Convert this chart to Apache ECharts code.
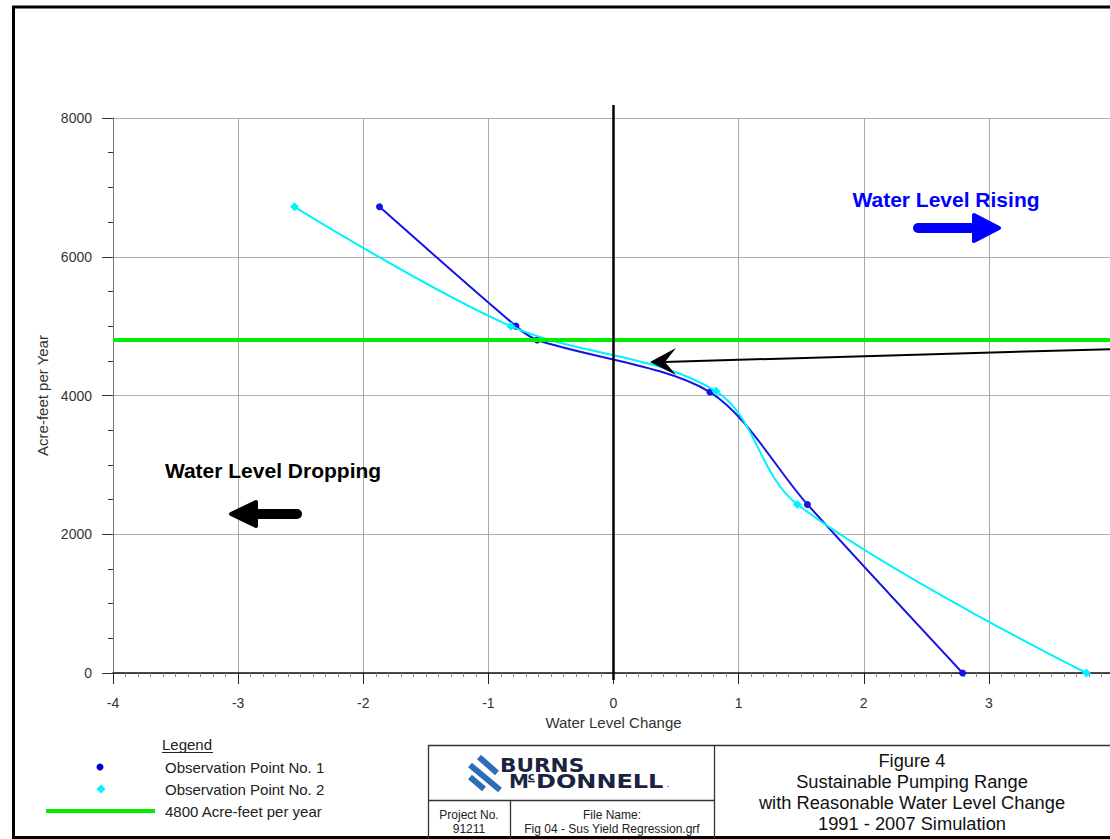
<!DOCTYPE html>
<html>
<head>
<meta charset="utf-8">
<script src="https://cdn.jsdelivr.net/npm/echarts@6/dist/echarts.min.js"></script>
<style>
html,body{margin:0;padding:0;background:#fff;}
#c{width:1110px;height:839px;}
</style>
</head>
<body>
<div id="c"></div>
<script>
// ---------- data ----------
const xMin = -4, xMax = 4, xStep = 1;
const yMin = 0, yMax = 8000, yStep = 2000;
const obs1X = [-1.87, -0.78, -0.61, 0.77, 1.55, 2.79];
const obs1Y = [6720, 5000, 4800, 4050, 2430, 0];
const obs2X = [-2.55, -0.82, 0.82, 1.47, 3.78];
const obs2Y = [6720, 5000, 4060, 2430, 0];
const targetRate = 4800;
const seriesNames = ['Observation Point No. 1', 'Observation Point No. 2', '4800 Acre-feet per year'];
const xAxisName = 'Water Level Change';
const yAxisName = 'Acre-feet per Year';
const titleLines = ['Figure 4', 'Sustainable Pumping Range', 'with Reasonable Water Level Change', '1991 - 2007 Simulation'];

// ---------- styles ----------
const FONT = '"Liberation Sans", Arial, sans-serif';
const BLUE = '#1414e6';
const CYAN = '#00f2ff';
const GREEN = '#00ee00';

const chart = echarts.init(document.getElementById('c'), null, {renderer: 'svg'});

const pts1 = obs1X.map((x, i) => [x, obs1Y[i]]);
const pts2 = obs2X.map((x, i) => [x, obs2Y[i]]);

function txt(text, x, y, font, fill, align, valign, extra) {
  return Object.assign({
    type: 'text', z: 100, silent: true,
    style: {text: text, x: x, y: y, font: font, fill: fill || '#111',
            textAlign: align || 'left', textVerticalAlign: valign || 'middle'}
  }, extra || {});
}
function ln(x1, y1, x2, y2, stroke, w, cap) {
  return {type: 'line', z: 100, silent: true, shape: {x1: x1, y1: y1, x2: x2, y2: y2},
          style: {stroke: stroke, lineWidth: w, lineCap: cap || 'butt'}};
}
function poly(points, fill, strokeW) {
  return {type: 'polygon', z: 100, silent: true, shape: {points: points},
          style: {fill: fill, stroke: fill, lineWidth: strokeW || 0, lineJoin: 'round'}};
}

const option = {
  animation: false,
  backgroundColor: '#ffffff',
  grid: {left: 113, top: 118, right: -4, bottom: 166, containLabel: false, outerBoundsMode: 'none'},
  xAxis: {
    type: 'value', min: xMin, max: xMax, interval: xStep,
    axisLine: {onZero: false, lineStyle: {color: '#111', width: 1.5}},
    axisTick: {show: true, length: 11, lineStyle: {color: '#222'}},
    minorTick: {show: true, splitNumber: 10, length: 4, lineStyle: {color: '#888'}},
    splitLine: {show: true, lineStyle: {color: '#a8a8a8', width: 1}},
    axisLabel: {margin: 23, color: '#333', fontFamily: FONT, fontSize: 14, formatter: v => String(v)},
    name: xAxisName, nameLocation: 'middle', nameGap: 41,
    nameTextStyle: {color: '#333', fontFamily: FONT, fontSize: 15}
  },
  yAxis: {
    type: 'value', min: yMin, max: yMax, interval: yStep,
    axisLine: {show: true, onZero: false, lineStyle: {color: '#777', width: 1}},
    axisTick: {show: true, length: 11, lineStyle: {color: '#333'}},
    minorTick: {show: true, splitNumber: 4, length: 5, lineStyle: {color: '#333'}},
    splitLine: {show: true, lineStyle: {color: '#b0b0b0', width: 1}},
    axisLabel: {margin: 21, color: '#333', fontFamily: FONT, fontSize: 14, formatter: v => String(v)},
    name: yAxisName, nameLocation: 'middle', nameGap: 63,
    nameTextStyle: {color: '#333', fontFamily: FONT, fontSize: 15}
  },
  series: [
    {
      type: 'line', name: seriesNames[2], data: [], z: 1,
      markLine: {
        silent: true, symbol: ['none', 'none'], label: {show: false},
        lineStyle: {color: GREEN, width: 4, type: 'solid'},
        data: [{yAxis: targetRate}]
      }
    },
    {
      type: 'line', name: seriesNames[0], data: pts1, smooth: 0.3,
      symbol: 'circle', symbolSize: 7, z: 3,
      lineStyle: {color: BLUE, width: 2}, itemStyle: {color: BLUE}
    },
    {
      type: 'line', name: seriesNames[1], data: pts2, smooth: 0.35,
      symbol: 'diamond', symbolSize: 9, z: 4,
      lineStyle: {color: CYAN, width: 2}, itemStyle: {color: CYAN}
    }
  ]
};
chart.setOption(option);

// vertical zero line through the library's scale
const x0 = chart.convertToPixel({xAxisIndex: 0}, 0);
const yTop = chart.convertToPixel({yAxisIndex: 0}, yMax);
const yBot = chart.convertToPixel({yAxisIndex: 0}, yMin);

const g = [];
// outer frame
g.push({type: 'rect', z: 100, silent: true, shape: {x: 13.5, y: 7, width: 1200, height: 830.5},
        style: {fill: 'none', stroke: '#000', lineWidth: 3}});
// zero line
g.push(ln(x0, yTop - 13, x0, yBot + 7, '#000', 2.5));

// thin pointer arrow
g.push(ln(1115, 349, 664, 362, '#000', 2));
g.push(poly([[650, 362], [676, 348], [665, 362], [676, 375]], '#000', 0));

// Water Level Rising
g.push(txt('Water Level Rising', 946, 199, 'bold 21px ' + FONT, '#0000ff', 'center', 'middle'));
g.push(ln(918, 228, 978, 228, '#0000ff', 10, 'round'));
g.push(poly([[974, 215], [999, 228], [974, 241]], '#0000ff', 4));

// Water Level Dropping
g.push(txt('Water Level Dropping', 273, 470, 'bold 21px ' + FONT, '#000', 'center', 'middle'));
g.push(ln(297, 514, 252, 514, '#000', 10, 'round'));
g.push(poly([[256, 502], [231, 514], [256, 526]], '#000', 4));

// legend
g.push(txt('Legend', 162, 744, '15px ' + FONT, '#222', 'left', 'middle'));
g.push(ln(162, 752.5, 213, 752.5, '#222', 1));
g.push({type: 'circle', z: 100, silent: true, shape: {cx: 100, cy: 767, r: 3.5}, style: {fill: '#0000dd'}});
g.push(txt(seriesNames[0], 165, 767, '15px ' + FONT, '#222', 'left', 'middle'));
g.push(poly([[101, 784.5], [105.5, 789], [101, 793.5], [96.5, 789]], CYAN, 0));
g.push(txt(seriesNames[1], 165, 789, '15px ' + FONT, '#222', 'left', 'middle'));
g.push(ln(46, 811, 155, 811, GREEN, 4));
g.push(txt(seriesNames[2], 165, 811, '15px ' + FONT, '#222', 'left', 'middle'));

// title block
const TB = '#333';
g.push(ln(428, 745.5, 1115, 745.5, TB, 1.3));
g.push(ln(428.5, 745, 428.5, 838, TB, 1.3));
g.push(ln(714.5, 745, 714.5, 838, TB, 1.3));
g.push(ln(428, 800.5, 714, 800.5, TB, 1.3));
g.push(ln(510.5, 800, 510.5, 838, TB, 1.3));
titleLines.forEach((t, i) => g.push(txt(t, 912, 760 + i * 21, '18.3px ' + FONT, '#111', 'center', 'middle')));
g.push(txt('Project No.', 469, 815, '12px ' + FONT, '#222', 'center', 'middle'));
g.push(txt('91211', 469, 829, '12px ' + FONT, '#222', 'center', 'middle'));
g.push(txt('File Name:', 612, 815, '12px ' + FONT, '#222', 'center', 'middle'));
g.push(txt('Fig 04 - Sus Yield Regression.grf', 612, 829, '12px ' + FONT, '#222', 'center', 'middle'));

// logo
const LOGO_B = '#2c6db6', LOGO_T = '#1b2340';
g.push(ln(479, 757, 497, 773, LOGO_B, 6));
g.push(ln(470, 765, 500, 790, LOGO_B, 6));
g.push(ln(470, 777, 484, 789, LOGO_B, 6));
g.push(txt('BURNS', 500, 765, 'bold 20px "DejaVu Sans", sans-serif', LOGO_T, 'left', 'middle',
           {scaleX: 1.08, originX: 500, originY: 765}));
g.push(txt('M', 509, 781, 'bold 20px "DejaVu Sans", sans-serif', LOGO_T, 'left', 'middle'));
g.push(txt('c', 528, 776, 'bold 11px "DejaVu Sans", sans-serif', LOGO_T, 'left', 'middle'));
g.push(ln(528, 781.5, 535, 781.5, LOGO_T, 1.5));
g.push(txt('DONNELL', 536, 781, 'bold 20px "DejaVu Sans", sans-serif', LOGO_T, 'left', 'middle',
           {scaleX: 1.2, originX: 536, originY: 781}));
g.push(txt('.', 667, 784, '8px "DejaVu Sans", sans-serif', LOGO_T, 'left', 'middle'));

chart.setOption({graphic: {elements: g}});
</script>
</body>
</html>
